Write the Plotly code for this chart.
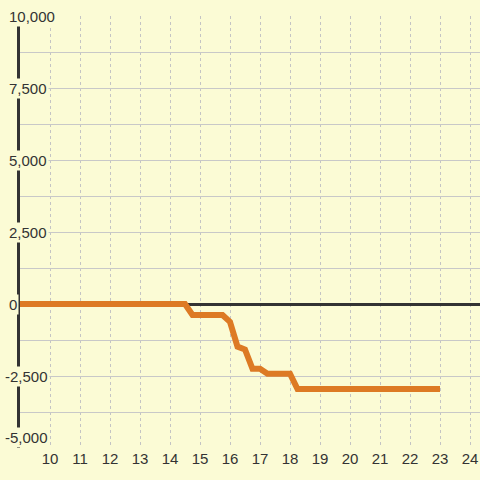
import plotly.graph_objects as go

# Data
x_vals = [9, 14.5, 14.75, 15.75, 16, 16.25, 16.5, 16.75, 17, 17.25, 18, 18.25, 23]
y_vals = [0, 0, -380, -380, -620, -1480, -1580, -2250, -2250, -2420, -2420, -2950, -2950]
y_tick_vals = [10000, 7500, 5000, 2500, 0, -2500, -5000]
y_tick_text = ["10,000", "7,500", "5,000", "2,500", "0", "-2,500", "-5,000"]
x_tick_vals = list(range(10, 25))
x_tick_text = [str(v) for v in x_tick_vals]

BG = "#fbfbd5"
TXT = "#333333"
FONT = "Liberation Sans, Arial, sans-serif"

fig = go.Figure()
fig.add_trace(go.Scatter(
    x=x_vals, y=y_vals, mode="lines",
    line=dict(color="#dd7a24", width=6),
    hoverinfo="skip", cliponaxis=False,
))

L, R, T, B = 20, 0, 16, 32
W = 480
pw = W - L - R

annotations = []
ymin = min(y_tick_vals)
for v, t in zip(y_tick_vals, y_tick_text):
    px = 7 if v >= 0 else 2.5
    annotations.append(dict(
        xref="paper", yref="y", x=(px - L) / pw, y=v,
        xanchor="left", yanchor="bottom" if v == ymin else "middle",
        text=t, showarrow=False,
        font=dict(family=FONT, size=15, color=TXT),
        bgcolor=BG, borderpad=1,
    ))

fig.update_layout(
    width=480, height=480,
    margin=dict(l=L, r=R, t=T, b=B),
    paper_bgcolor=BG, plot_bgcolor=BG,
    showlegend=False,
    annotations=annotations,
    xaxis=dict(
        range=[9, 9 + pw / 30.0],
        tickvals=x_tick_vals, ticktext=x_tick_text,
        showgrid=True, gridcolor="#c4c4c4", gridwidth=1, griddash="3px,3px",
        zeroline=False, showline=False, ticks="",
        tickfont=dict(family=FONT, size=15, color=TXT),
        fixedrange=True,
    ),
    yaxis=dict(
        range=[-5000, 10000],
        tickvals=[v * 1250 for v in range(-4, 9)],
        showticklabels=False,
        showgrid=True, gridcolor="#c8c8c8", gridwidth=1,
        zeroline=True, zerolinecolor="#333333", zerolinewidth=3,
        showline=True, linecolor="#333333", linewidth=3, layer="below traces",
        ticks="", fixedrange=True,
    ),
)

fig.write_html(
    "out.html",
    config={"displayModeBar": False},
    post_script="document.body.style.margin='0';document.body.style.padding='0';document.body.style.overflow='hidden';",
)
